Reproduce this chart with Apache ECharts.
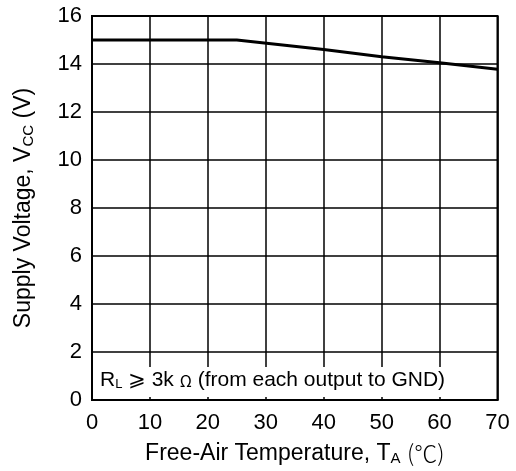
<!DOCTYPE html>
<html><head><meta charset="utf-8">
<script src="https://cdn.jsdelivr.net/npm/echarts@6/dist/echarts.min.js"></script>
<style>html,body{margin:0;padding:0;background:#fff}#c{width:516px;height:471px}</style>
</head><body><div id="c"></div>
<script>
const temperature = [0, 25, 40, 50, 60, 70];
const supplyVoltage = [15, 15, 14.6, 14.3, 14.05, 13.78];
const xTicks = [0, 10, 20, 30, 40, 50, 60, 70];
const yTicks = [0, 2, 4, 6, 8, 10, 12, 14, 16];

const FONT = 'Liberation Sans, Arial, sans-serif';
const chart = echarts.init(document.getElementById('c'));
chart.setOption({
  animation: false,
  grid: { left: 92, right: 18.5, top: 16, bottom: 69, show: true, borderColor: '#000', borderWidth: 2 },
  xAxis: {
    type: 'value', min: xTicks[0], max: xTicks[xTicks.length-1], interval: 10,
    name: 'Free-Air Temperature, T{s|A} {c|(℃)}', nameLocation: 'middle', nameGap: 41,
    nameTextStyle: { color: '#000', fontSize: 23, fontFamily: FONT,
      rich: { s: { fontSize: 15, verticalAlign: 'bottom', padding: [10,0,0,0], color:'#000', fontFamily: FONT },
              c: { fontSize: 23, fontFamily: 'Noto Sans CJK SC', color:'#000', fontWeight: 300 } } },
    axisLine: { show: true, lineStyle: { color: '#000', width: 2 } },
    axisTick: { show: false },
    axisLabel: { color: '#000', fontSize: 22, fontFamily: FONT, margin: 12 },
    splitLine: { show: true, lineStyle: { color: '#000', width: 1.5 } }
  },
  yAxis: {
    type: 'value', min: yTicks[0], max: yTicks[yTicks.length-1], interval: 2,
    name: 'Supply Voltage, V{s|CC} (V)', nameLocation: 'middle', nameGap: 56, nameRotate: 90,
    nameTextStyle: { color: '#000', fontSize: 23, fontFamily: FONT,
      rich: { s: { fontSize: 15, verticalAlign: 'bottom', padding: [10,0,0,0], color:'#000', fontFamily: FONT } } },
    axisLine: { show: true, lineStyle: { color: '#000', width: 2 } },
    axisTick: { show: false },
    axisLabel: { color: '#000', fontSize: 22, fontFamily: FONT, margin: 10 },
    splitLine: { show: true, lineStyle: { color: '#000', width: 1.5 } }
  },
  graphic: [
    { type: 'rect', z: 10, shape: { x: 94, y: 367, width: 402, height: 30 }, style: { fill: '#fff' } },
    { type: 'text', z: 11, left: 100, top: 370,
      style: { text: 'R{s|L} {g|⩾} 3k {o|Ω} (from each output to GND)', fill: '#000', font: '21px Liberation Sans',
        rich: { s: { fontSize: 13, verticalAlign: 'bottom', padding: [8,0,0,0], fill:'#000' },
                g: { fontSize: 21, fontFamily: 'DejaVu Sans', fill:'#000' },
                o: { fontSize: 16, fontFamily: 'Noto Sans CJK SC', fill:'#000' } } } }
  ],
  series: [{
    type: 'line', data: temperature.map((t,i)=>[t, supplyVoltage[i]]),
    showSymbol: false, lineStyle: { color: '#000', width: 3 }, z: 5
  }]
});
</script></body></html>
